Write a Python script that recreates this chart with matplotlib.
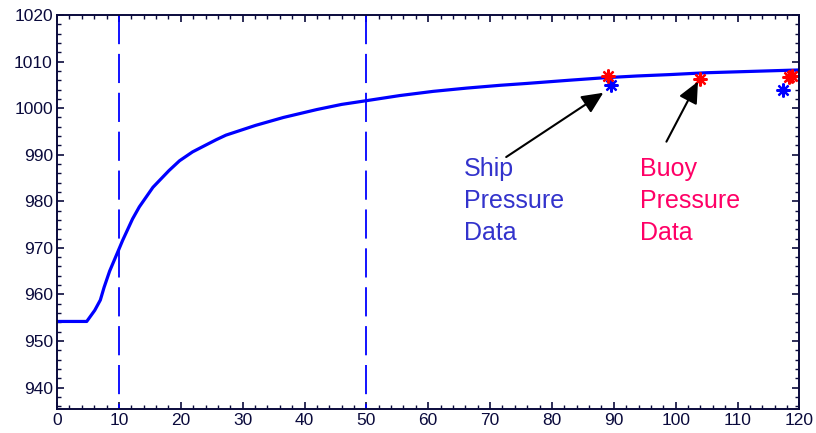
import matplotlib.pyplot as plt
from matplotlib.ticker import MultipleLocator

plt.rcParams["font.family"] = ["Liberation Sans", "DejaVu Sans"]
plt.rcParams["lines.scale_dashes"] = False

# pressure trace (hPa) against time
hours = [0, 4.8, 6.1, 7.0, 7.6, 8.5, 10, 10.6, 12.2, 13.3, 15.5, 18.1, 19.8,
         21.9, 23.5, 25.7, 27.3, 30.5, 32.1, 36.6, 42, 46, 50, 55.4, 60.8,
         66.2, 71.6, 75.9, 82.9, 88.2, 93.7, 99, 105, 112.5, 120]
pressure = [954.2, 954.2, 956.6, 958.8, 961.5, 965.0, 969.7, 971.6, 976.2,
            978.8, 983.0, 986.6, 988.7, 990.6, 991.7, 993.2, 994.2, 995.6,
            996.3, 998.0, 999.7, 1000.8, 1001.6, 1002.7, 1003.6, 1004.3,
            1004.9, 1005.3, 1006.0, 1006.5, 1006.9, 1007.2, 1007.6, 1007.9,
            1008.2]

ship_t = [89.5, 117.3]
ship_p = [1004.9, 1003.9]
buoy_t = [89.1, 103.9, 118.3, 118.8]
buoy_p = [1006.9, 1006.3, 1006.6, 1007.0]

marks = [10, 50]

navy = "#0a0a3c"
star = (8, 2, 0)

fig = plt.figure(figsize=(8.16, 4.33), dpi=100)
ax = fig.add_axes([0.0699, 0.0554, 0.9098, 0.9100])

for m in marks:
    ax.plot([m, m], [1020, 935.4], color="blue", lw=1.3,
            dashes=(21, 7), dash_capstyle="butt")

ax.plot(hours, pressure, color="blue", lw=2.3)
ax.plot(ship_t, ship_p, linestyle="none", marker=star, color="blue",
        markersize=10, markeredgewidth=1.6)
ax.plot(buoy_t, buoy_p, linestyle="none", marker=star, color="red",
        markersize=10, markeredgewidth=1.6)

arrow = dict(arrowstyle="-|>,head_length=0.65,head_width=0.3",
             color="black", lw=1.5, mutation_scale=20, shrinkA=0, shrinkB=0)
ax.annotate("", xy=(88.3, 1003.3), xytext=(72.6, 989.5), arrowprops=arrow)
ax.annotate("", xy=(103.6, 1005.7), xytext=(98.5, 992.8), arrowprops=arrow)

ax.text(65.7, 971.6, "Ship\nPressure\nData", color="#3333cc", fontsize=18,
        va="baseline", ha="left", linespacing=1.42)
ax.text(94.2, 971.6, "Buoy\nPressure\nData", color="#ff0066", fontsize=18,
        va="baseline", ha="left", linespacing=1.42)

ax.set_xlim(0, 120)
ax.set_ylim(935.4, 1020)
ax.xaxis.set_major_locator(MultipleLocator(10))
ax.xaxis.set_minor_locator(MultipleLocator(2))
ax.yaxis.set_major_locator(MultipleLocator(10))
ax.yaxis.set_minor_locator(MultipleLocator(2))
ax.tick_params(which="both", direction="in", top=True, right=True,
               color=navy, labelcolor=navy, labelsize=12.5)
ax.tick_params(which="major", length=5, width=1.2)
ax.tick_params(which="minor", length=3, width=1.0)
ax.tick_params(axis="y", pad=3)
ax.tick_params(axis="x", pad=3)
for s in ax.spines.values():
    s.set_color(navy)
    s.set_linewidth(1.4)

fig.savefig("out.png", dpi=100)
